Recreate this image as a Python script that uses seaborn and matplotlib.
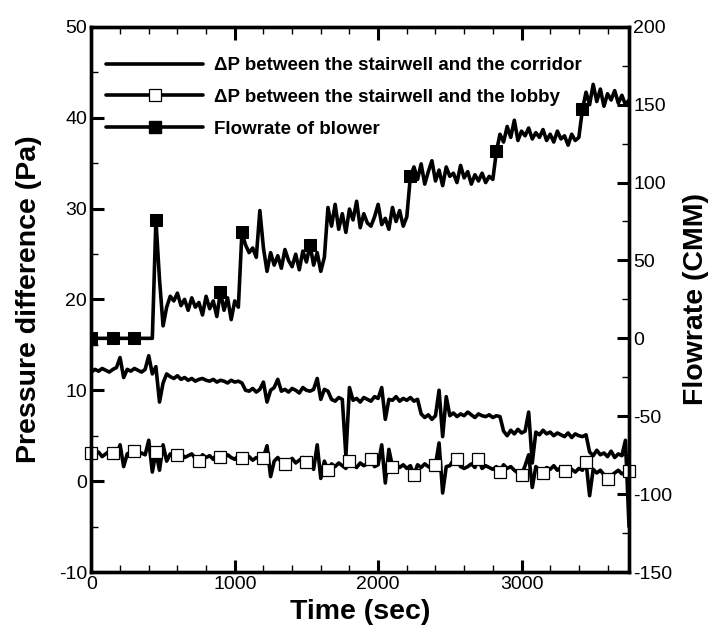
import numpy as np
import pandas as pd
import matplotlib
matplotlib.use("Agg")
import matplotlib.pyplot as plt
import seaborn as sns
from matplotlib.ticker import MultipleLocator

# ---------------- data ----------------
time_sec = np.arange(0, 3751, 25)  # sampling grid, 151 points

# Delta P between the stairwell and the corridor (Pa)
dp_corridor = [
    12.0, 12.3, 12.1, 12.4, 12.2, 12.0, 12.3, 12.5, 13.6, 11.4,
    12.3, 12.1, 12.4, 12.2, 12.0, 12.3, 13.8, 11.8, 12.6, 8.7,
    10.8, 11.8, 11.5, 11.3, 11.6, 11.2, 11.4, 11.1, 11.3, 11.0,
    11.2, 11.3, 11.1, 11.0, 11.2, 10.9, 11.1, 11.0, 10.8, 11.1,
    10.9, 11.0, 10.8, 10.0, 9.9, 10.2, 9.8, 10.1, 10.9, 8.7,
    10.0, 10.3, 11.2, 9.9, 10.1, 9.8, 10.2, 10.0, 9.7, 10.3,
    10.0, 9.9, 10.1, 11.3, 9.0, 10.1, 9.9, 9.0, 8.8, 9.2,
    9.0, 2.8, 10.3, 8.9, 9.1, 8.7, 9.2, 9.0, 8.8, 9.3,
    9.1, 10.3, 6.8, 9.0, 8.9, 9.3, 8.8, 9.1, 8.9, 9.2,
    8.8, 9.0, 7.4, 7.0, 7.3, 6.8, 7.2, 10.0, 4.9, 9.3,
    7.2, 7.5, 7.1, 7.4, 7.2, 7.6, 7.3, 7.0, 7.4, 7.2,
    7.1, 7.3, 7.0, 7.2, 7.1, 5.5, 5.0, 5.6, 5.2, 5.7,
    5.3, 5.5, 7.6, 2.0, 5.4, 5.1, 5.6, 5.2, 5.4, 5.0,
    5.3, 5.1, 4.9, 5.3, 4.8, 5.2, 5.0, 4.9, 5.1, 3.2,
    2.8, 3.4, 2.9, 3.1, 2.7, 3.3, 2.6, 3.0, 2.8, 4.5,
    -5.0,
]

# Delta P between the stairwell and the lobby (Pa)
dp_lobby = [
    3.1, 2.9, 3.2, 2.7, 3.0, 3.3, 3.1, 2.8, 4.0, 1.6,
    3.0, 3.2, 3.3, 2.8, 3.1, 2.9, 4.5, 1.0, 3.2, 1.2,
    4.0, 2.2, 3.0, 2.7, 2.9, 3.1, 2.6, 2.8, 3.0, 2.5,
    2.2, 2.9, 2.6, 2.8, 2.4, 3.0, 2.7, 2.5, 2.9, 2.6,
    2.4, 2.8, 2.6, 2.5, 2.7, 2.3, 2.6, 2.4, 2.6, 3.9,
    0.5, 2.2, 2.6, 2.1, 1.9, 2.1, 2.5, 2.0, 2.3, 2.6,
    2.1, 2.4, 1.3, 4.0, 0.3, 2.2, 1.2, 1.9, 1.6, 2.0,
    1.7, 1.4, 2.2, 1.8, 1.5, 2.0, 1.7, 1.9, 2.4, 1.6,
    1.8, 4.0, -0.2, 3.5, 1.6, 1.9, 1.5, 1.8, 1.4, 1.7,
    0.7, 1.8, 1.5, 1.9, 1.6, 1.4, 1.8, 4.2, -1.3, 1.6,
    1.7, 2.3, 2.4, 1.6, 1.4, 1.6, 1.9, 1.5, 2.4, 1.4,
    1.7, 1.5, 1.3, 1.6, 1.0, 1.8, 1.4, 1.6, 1.2, 0.9,
    0.7, 1.7, 2.9, -0.7, 1.6, 1.2, 0.9, 1.5, 1.3, 1.7,
    1.2, 1.5, 1.1, 1.6, 1.3, 1.0, 1.4, 1.2, 2.1, -1.6,
    1.3, 0.9, 1.2, 0.7, 0.2, 0.6, 0.9, 1.2, 0.8, 1.0,
    1.1,
]

# Flowrate of blower (CMM)
flowrate = [
    0, 0, 0, 0, 0, 0, 0, 0, 0, 0,
    0, 0, 0, 0, 0, 0, 0, 0, 76, 38,
    8, 20, 27, 24, 29, 21, 25, 18, 26, 20,
    23, 15, 27, 19, 24, 14, 30, 18, 26, 12,
    24, 20, 68, 60, 55, 58, 52, 82, 58, 43,
    55, 47, 53, 45, 57, 50, 46, 54, 44, 56,
    49, 60, 47, 55, 43, 52, 84, 72, 86, 70,
    80, 68, 83, 76, 88, 71, 80, 74, 72, 78,
    86, 73, 77, 70, 84, 75, 82, 72, 78, 104,
    110, 102, 112, 99, 107, 114, 101, 108, 98, 110,
    104, 106, 100, 111, 103, 107, 99, 105, 101, 106,
    100, 104, 102, 120, 131, 126, 136, 129, 140, 127,
    133, 130, 135, 128, 132, 129, 134, 127, 131, 126,
    133, 128, 130, 124, 131, 127, 129, 147, 158, 150,
    163, 152, 160, 149, 157, 153, 159, 151, 156, 150,
    153,
]
flow_marker_idx = [0, 6, 12, 18, 36, 42, 61, 89, 113, 137]

label_corr = "\u0394P between the stairwell and the corridor"
label_lobby = "\u0394P between the stairwell and the lobby"
label_flow = "Flowrate of blower"

df = pd.DataFrame({"t": time_sec, "corr": dp_corridor,
                   "lobby": dp_lobby, "flow": flowrate})

# ---------------- style ----------------
sns.set_style("ticks")
plt.rcParams["font.family"] = ["Liberation Sans", "DejaVu Sans"]
plt.rcParams["axes.unicode_minus"] = False
for k in ("text.color", "axes.labelcolor", "xtick.color", "ytick.color",
          "axes.edgecolor"):
    plt.rcParams[k] = "black"

fig = plt.figure(figsize=(7.14, 6.37), dpi=100)
ax = fig.add_axes([0.128, 0.102, 0.753, 0.856])
ax2 = ax.twinx()

lw = 2.6
ms = 8.5
sns.lineplot(data=df, x="t", y="corr", ax=ax, color="black", lw=lw,
             legend=False)
sns.lineplot(data=df, x="t", y="lobby", ax=ax, color="black", lw=lw,
             marker="s", markersize=ms, markerfacecolor="white",
             markeredgecolor="black", markeredgewidth=0.9, markevery=6,
             legend=False, clip_on=False)
sns.lineplot(data=df, x="t", y="flow", ax=ax2, color="black", lw=lw,
             marker="s", markersize=ms, markerfacecolor="black",
             markeredgecolor="black", markevery=flow_marker_idx,
             legend=False)

ax.set_xlim(0, 3750)
ax.set_ylim(-10, 50)
ax2.set_ylim(-150, 200)

ax.xaxis.set_major_locator(MultipleLocator(1000))
ax.xaxis.set_minor_locator(MultipleLocator(200))
ax.yaxis.set_major_locator(MultipleLocator(10))
ax.yaxis.set_minor_locator(MultipleLocator(5))
ax2.yaxis.set_major_locator(MultipleLocator(50))
ax2.yaxis.set_minor_locator(MultipleLocator(25))

for a in (ax, ax2):
    for s in a.spines.values():
        s.set_linewidth(2.4)
        s.set_color("black")
tick_fs = 14
ax.tick_params(axis="x", which="both", direction="in", top=True,
               bottom=True, labelsize=tick_fs, pad=3)
ax.tick_params(axis="y", which="both", direction="in", left=True,
               right=False, labelsize=tick_fs, pad=3)
ax2.tick_params(axis="y", which="both", direction="in", right=True,
                left=False, labelsize=tick_fs, pad=3)
for a in (ax, ax2):
    a.tick_params(which="major", length=9, width=2.2, color="black")
    a.tick_params(which="minor", length=5, width=1.0, color="black")

lab_fs = 20.5
ax.set_xlabel("Time (sec)", fontsize=lab_fs, fontweight="bold")
ax.set_ylabel("Pressure difference (Pa)", fontsize=lab_fs,
              fontweight="bold")
ax2.set_ylabel("Flowrate (CMM)", fontsize=lab_fs, fontweight="bold")
ax.xaxis.set_label_coords(0.5, -0.05)
ax.yaxis.set_label_coords(-0.092, 0.5)
ax2.yaxis.set_label_coords(1.100, 0.5)

h_corr = plt.Line2D([], [], color="black", lw=2.6)
h_lobby = plt.Line2D([], [], color="black", lw=2.6, marker="s",
                     markersize=ms, markerfacecolor="white",
                     markeredgecolor="black", markeredgewidth=0.9)
h_flow = plt.Line2D([], [], color="black", lw=2.6, marker="s",
                    markersize=ms, markerfacecolor="black")
leg = ax2.legend([h_corr, h_lobby, h_flow],
                 [label_corr, label_lobby, label_flow],
                 loc="upper left", bbox_to_anchor=(0.027, 0.944),
                 borderaxespad=0, borderpad=0,
                 frameon=False, handlelength=5.2, handletextpad=0.55,
                 labelspacing=0.77, prop={"weight": "bold", "size": 13.5})

fig.savefig("out.png", dpi=100)
